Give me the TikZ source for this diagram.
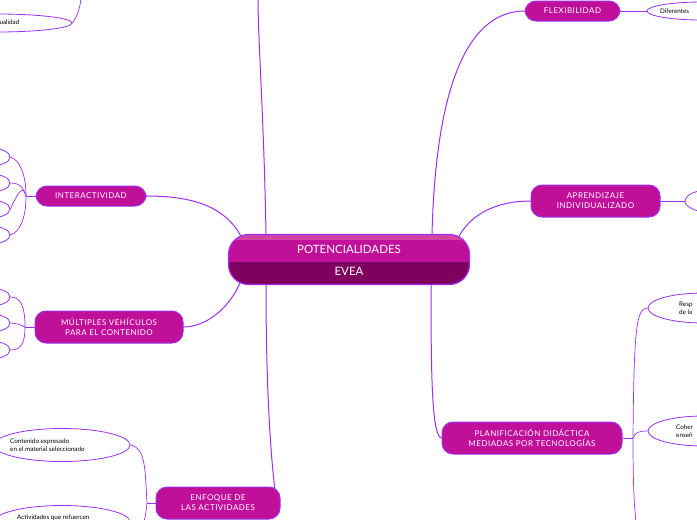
\documentclass[tikz,border=0pt]{standalone}
\usetikzlibrary{shapes.geometric}
\usepackage{fontspec}
\setmainfont{Lato}
\definecolor{vio}{HTML}{9B30F0}
\definecolor{mag}{HTML}{C0109A}
\definecolor{dark}{HTML}{800060}
\begin{document}
\begin{tikzpicture}[x=1pt,y=-1pt,
  main/.style={draw=vio,line width=1pt,fill=mag,rounded corners=11pt,text=white,font=\addfontfeatures{LetterSpace=6}\fontsize{8}{10}\selectfont,align=center,inner sep=0pt},
  leaf/.style={draw=vio,line width=0.8pt,ellipse,fill=white},
  con/.style={draw=vio,line width=1pt},
  sub/.style={draw=vio,line width=0.7pt},
  ltxt/.style={font=\fontsize{6.3}{8}\selectfont,align=left,anchor=west,inner sep=0pt}]
\useasboundingbox (0,0) rectangle (697,520);
\clip (0,0) rectangle (697,520);
% coordinates
\coordinate (cTL) at (266,234); \coordinate (cTR) at (432,234);
\coordinate (cBL) at (266,285); \coordinate (cBR) at (431,285);
\coordinate (cL1) at (242,238); \coordinate (cL2) at (240,283);
\coordinate (cR1) at (458,238);
\coordinate (topEnd) at (258,-2);
% main connectors
\draw[con] (cTL) .. controls (264,120) and (258,40) .. (topEnd);
\draw[con] (cTR) .. controls (436,80) and (470,11) .. (525,11);
\draw[con] (cR1) .. controls (470,215) and (495,201) .. (531,201);
\draw[con] (cBR) .. controls (431,380) and (432,438) .. (442,438);
\draw[con] (cBL) .. controls (266,380) and (270,450) .. (275,490);
\draw[con] (cL1) .. controls (225,205) and (190,196) .. (146,196);
\draw[con] (cL2) .. controls (228,310) and (205,327) .. (183,327);
% centre
\begin{scope}
\clip[rounded corners=20pt] (228.6,234.6) rectangle (469.4,284.4);
\fill[dark] (228,262) rectangle (470,286);
\fill[mag] (228,234) rectangle (470,262);
\fill[mag!70!pink] (228,234) rectangle (470,240);
\end{scope}
\node[draw=vio,line width=1.2pt,rounded corners=20pt,minimum width=241pt,minimum height=50pt,inner sep=0pt] (center) at (349,259.5) {};
\node[text=white,font=\fontsize{11.5}{13}\selectfont] (ct) at (349,249) {POTENCIALIDADES};
\node[text=white,font=\fontsize{11.5}{13}\selectfont] (cb) at (349,271) {EVEA};
% main topic nodes
\node[main,minimum width=110pt,minimum height=20pt] (inter) at (91,196) {INTERACTIVIDAD};
\node[main,minimum width=148pt,minimum height=32pt] (mult) at (109,327) {MÚLTIPLES VEHÍCULOS\\PARA EL CONTENIDO};
\node[main,minimum width=124pt,minimum height=32pt] (enf) at (218,503) {ENFOQUE DE\\LAS ACTIVIDADES};
\node[main,minimum width=95pt,minimum height=20pt] (flex) at (572.5,11) {FLEXIBILIDAD};
\node[main,minimum width=129pt,minimum height=32pt] (apr) at (595.5,201) {APRENDIZAJE\\INDIVIDUALIZADO};
\node[main,minimum width=180pt,minimum height=32pt] (plan) at (532,438) {PLANIFICACIÓN DIDÁCTICA\\MEDIADAS POR TECNOLOGÍAS};
% top-left leaf
\node[leaf,minimum width=150pt,minimum height=18pt] (tl) at (-3,23) {};
\node[ltxt] (tlt) at (-11,22) {Virtualidad};
\draw[sub] (tl.east) .. controls (76,18) and (80,10) .. (81,-2);
% interactividad children
\foreach \yy/\nm in {157/i1,183/i2,209/i3,235/i4}{
  \node[leaf,minimum width=40pt,minimum height=18pt] (\nm) at (-10,\yy) {};
}
\draw[sub] (inter.west) -- (26,196);
\foreach \nm in {i2,i3}{\draw[sub] (26,196) .. controls (24,190) and (22,183) .. (\nm.east);}
\draw[sub] (26,196) .. controls (26,175) and (20,160) .. (i1.east);
\draw[sub] (26,196) .. controls (26,218) and (20,232) .. (i4.east);
% multiples children
\foreach \yy/\nm in {297/m1,323/m2,350/m3}{
  \node[leaf,minimum width=40pt,minimum height=18pt] (\nm) at (-10,\yy) {};
}
\draw[sub] (mult.west) -- (25,327);
\draw[sub] (25,327) .. controls (25,305) and (20,297) .. (m1.east);
\draw[sub] (25,327) .. controls (22,325) and (15,323) .. (m2.east);
\draw[sub] (25,327) .. controls (25,345) and (20,350) .. (m3.east);
% enfoque children
\node[leaf,minimum width=136pt,minimum height=33pt] (e1) at (62,445) {};
\node[ltxt] (e1t) at (10,445) {Contenido expresado\\en el material seleccionado};
\node[leaf,minimum width=136pt,minimum height=33pt] (e2) at (62,522) {};
\node[ltxt] (e2t) at (17,518) {Actividades que refuercen};
\draw[sub] (enf.west) -- (147,503);
\draw[sub] (147,503) .. controls (145,470) and (146,448) .. (e1.east);
\draw[sub] (147,503) .. controls (146,512) and (145,520) .. (143,524);
% flexibilidad child
\node[leaf,minimum width=110pt,minimum height=18pt] (f1) at (702,11) {};
\node[ltxt] (f1t) at (660,11) {Diferentes};
\draw[sub] (flex.east) -- (f1.west);
% aprendizaje child
\node[leaf,minimum width=60pt,minimum height=24pt] (a1) at (715,201) {};
\draw[sub] (apr.east) -- (a1.west);
% planificacion children
\node[leaf,minimum width=110pt,minimum height=30pt] (p1) at (703,308) {};
\node[ltxt] (p1t) at (679,308) {Resp\\de la};
\node[leaf,minimum width=110pt,minimum height=30pt] (p2) at (703,431) {};
\node[ltxt] (p2t) at (676,431) {Coher\\enseñ};
\draw[sub] (plan.east) -- (633,438);
\draw[sub] (633,438) .. controls (634,330) and (636,308) .. (p1.west);
\draw[sub] (633,438) .. controls (635,432) and (640,431) .. (p2.west);
\draw[sub] (633,438) .. controls (633,480) and (634,505) .. (636,522);
\end{tikzpicture}
\end{document}
